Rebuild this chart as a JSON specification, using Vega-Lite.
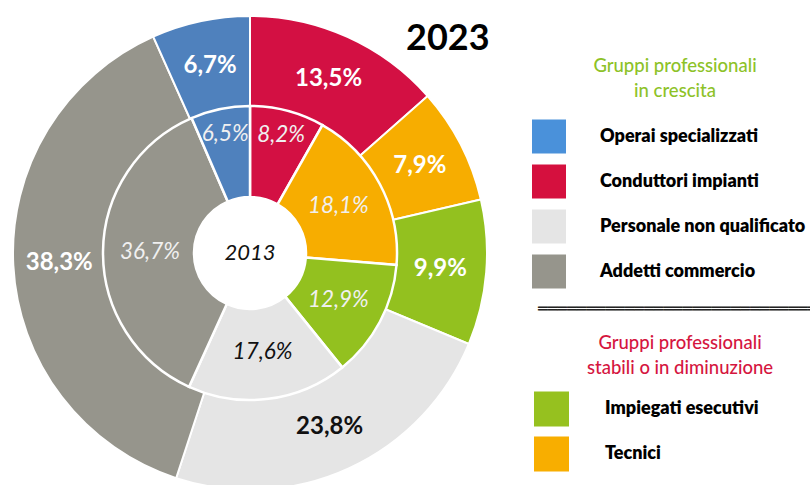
{
  "$schema": "https://vega.github.io/schema/vega-lite/v6.json",
  "width": 500,
  "height": 506,
  "autosize": "none",
  "padding": {"left": 0, "top": 0, "right": 310, "bottom": 0},
  "background": "white",
  "config": {"view": {"stroke": null}, "font": "Lato"},
  "title": {"text": "2023", "anchor": "start", "frame": "group", "font": "Lato", "fontSize": 36, "fontWeight": "bold", "color": "#000000", "dx": 406, "dy": 86, "offset": 0, "baseline": "alphabetic"},
  "data": {
    "values": [
      {"ring": "2023", "cat": "Conduttori impianti", "value": 13.5, "label": "13,5%", "ord": 1},
      {"ring": "2023", "cat": "Tecnici", "value": 7.9, "label": "7,9%", "ord": 2},
      {"ring": "2023", "cat": "Impiegati esecutivi", "value": 9.9, "label": "9,9%", "ord": 3},
      {"ring": "2023", "cat": "Personale non qualificato", "value": 23.8, "label": "23,8%", "ord": 4},
      {"ring": "2023", "cat": "Addetti commercio", "value": 38.3, "label": "38,3%", "ord": 5},
      {"ring": "2023", "cat": "Operai specializzati", "value": 6.7, "label": "6,7%", "ord": 6},
      {"ring": "2013", "cat": "Conduttori impianti", "value": 8.2, "label": "8,2%", "ord": 1},
      {"ring": "2013", "cat": "Tecnici", "value": 18.1, "label": "18,1%", "ord": 2},
      {"ring": "2013", "cat": "Impiegati esecutivi", "value": 12.9, "label": "12,9%", "ord": 3},
      {"ring": "2013", "cat": "Personale non qualificato", "value": 17.6, "label": "17,6%", "ord": 4},
      {"ring": "2013", "cat": "Addetti commercio", "value": 36.7, "label": "36,7%", "ord": 5},
      {"ring": "2013", "cat": "Operai specializzati", "value": 6.5, "label": "6,5%", "ord": 6}
    ]
  },
  "layer": [
    {
      "transform": [{"filter": "datum.ring == '2023'"}],
      "mark": {"type": "arc", "radius": 237, "radius2": 146, "stroke": "white", "strokeWidth": 2},
      "encoding": {
        "theta": {"field": "value", "type": "quantitative", "stack": "normalize"},
        "order": {"field": "ord", "type": "quantitative"},
        "color": {"field": "cat", "type": "nominal", "legend": null,
          "scale": {"domain": ["Conduttori impianti", "Tecnici", "Impiegati esecutivi", "Personale non qualificato", "Addetti commercio", "Operai specializzati"],
                    "range": ["#d31043", "#f7ad00", "#93c11f", "#e5e5e5", "#96958c", "#4f81bd"]}}
      }
    },
    {
      "transform": [{"filter": "datum.ring == '2013'"}],
      "mark": {"type": "arc", "radius": 147, "radius2": 56, "stroke": "white", "strokeWidth": 2.5},
      "encoding": {
        "theta": {"field": "value", "type": "quantitative", "stack": "normalize"},
        "order": {"field": "ord", "type": "quantitative"},
        "color": {"field": "cat", "type": "nominal", "legend": null,
          "scale": {"domain": ["Conduttori impianti", "Tecnici", "Impiegati esecutivi", "Personale non qualificato", "Addetti commercio", "Operai specializzati"],
                    "range": ["#d31043", "#f7ad00", "#93c11f", "#e5e5e5", "#96958c", "#4f81bd"]}}
      }
    },
    {
      "transform": [{"filter": "datum.ring == '2023'"}],
      "mark": {"type": "text", "radius": 191, "font": "Lato", "fontSize": 24, "fontWeight": "bold", "align": "center", "baseline": "middle"},
      "encoding": {
        "theta": {"field": "value", "type": "quantitative", "stack": "normalize"},
        "order": {"field": "ord", "type": "quantitative"},
        "text": {"field": "label"},
        "color": {"condition": {"test": "datum.cat == 'Personale non qualificato'", "value": "#111111"}, "value": "#ffffff"}
      }
    },
    {
      "transform": [{"filter": "datum.ring == '2013'"}],
      "mark": {"type": "text", "radius": 100, "font": "Lato", "fontSize": 22.5, "fontWeight": "normal", "fontStyle": "italic", "align": "center", "baseline": "middle"},
      "encoding": {
        "theta": {"field": "value", "type": "quantitative", "stack": "normalize"},
        "order": {"field": "ord", "type": "quantitative"},
        "text": {"condition": {"test": "datum.value >= 9", "field": "label"}, "value": ""},
        "color": {"condition": {"test": "datum.cat == 'Personale non qualificato'", "value": "#111111"}, "value": "#f0f0f0"}
      }
    },
    {
      "transform": [{"filter": "datum.ring == '2013'"}],
      "mark": {"type": "text", "radius": 122, "font": "Lato", "fontSize": 22.5, "fontWeight": "normal", "fontStyle": "italic", "align": "center", "baseline": "middle"},
      "encoding": {
        "theta": {"field": "value", "type": "quantitative", "stack": "normalize"},
        "order": {"field": "ord", "type": "quantitative"},
        "text": {"condition": {"test": "datum.value < 9", "field": "label"}, "value": ""},
        "color": {"value": "#f0f0f0"}
      }
    },
    {
      "data": {"values": [{"t": "2013"}]},
      "mark": {"type": "text", "font": "Lato", "fontSize": 22, "fontStyle": "italic", "color": "#111111", "align": "center", "baseline": "middle"},
      "encoding": {"text": {"field": "t"}}
    },
    {
      "transform": [{"filter": "datum.ring == '2023' && (datum.cat == 'Operai specializzati' || datum.cat == 'Conduttori impianti' || datum.cat == 'Personale non qualificato' || datum.cat == 'Addetti commercio')"}],
      "mark": {"type": "square", "opacity": 0},
      "encoding": {
        "color": {"field": "cat", "type": "nominal",
          "scale": {"domain": ["Operai specializzati", "Conduttori impianti", "Personale non qualificato", "Addetti commercio"],
                    "range": ["#4a91da", "#d5103e", "#e5e5e5", "#96958c"]},
          "legend": {
            "orient": "none", "legendX": 532, "legendY": 57, "padding": 0,
            "title": ["Gruppi professionali", "in crescita"],
            "titleFont": "Lato", "titleFontSize": 18.5, "titleFontWeight": 500, "titleColor": "#8dc228",
            "titleAnchor": "middle", "titleAlign": "center", "titleBaseline": "top", "titleLineHeight": 25, "titlePadding": 19, "titleLimit": 400,
            "symbolType": "square", "symbolSize": 1156, "symbolStrokeWidth": 0, "symbolOpacity": 1,
            "labelFont": "Lato", "labelFontSize": 18, "labelFontWeight": 800, "labelColor": "#000000", "labelOffset": 34, "labelLimit": 400,
            "labelExpr": "datum.label + '\u00a0\u00a0\u00a0\u200b'",
            "rowPadding": 11
          }}
      }
    },
    {
      "transform": [{"filter": "datum.ring == '2023' && (datum.cat == 'Impiegati esecutivi' || datum.cat == 'Tecnici')"}],
      "mark": {"type": "square", "opacity": 0},
      "encoding": {
        "color": {"field": "cat", "type": "nominal",
          "scale": {"domain": ["Impiegati esecutivi", "Tecnici"], "range": ["#96c11f", "#f8ae00"]},
          "legend": {
            "orient": "none", "legendX": 534, "legendY": 334, "padding": 0,
            "title": ["Gruppi professionali", "stabili o in diminuzione"],
            "titleFont": "Lato", "titleFontSize": 18.5, "titleFontWeight": 500, "titleColor": "#d5163f",
            "titleAnchor": "middle", "titleAlign": "center", "titleBaseline": "top", "titleLineHeight": 25, "titlePadding": 14, "titleLimit": 400,
            "symbolType": "square", "symbolSize": 1225, "symbolStrokeWidth": 0, "symbolOpacity": 1,
            "labelFont": "Lato", "labelFontSize": 18, "labelFontWeight": 800, "labelColor": "#000000", "labelOffset": 36, "labelLimit": 400,
            "labelExpr": "datum.label + '\u00a0\u00a0\u00a0\u00a0\u00a0\u00a0\u00a0\u00a0\u00a0\u00a0\u00a0\u00a0\u00a0\u00a0\u00a0\u00a0\u200b'",
            "rowPadding": 10
          }}
      }
    },
    {
      "transform": [{"filter": "datum.ring == '2023' && datum.ord == 1"}],
      "mark": {"type": "point", "opacity": 0},
      "encoding": {
        "shape": {"datum": "sep",
          "legend": {
            "orient": "none", "legendX": 538, "legendY": 301, "padding": 0,
            "title": "════════════════════════════════════",
            "titleFont": "DejaVu Sans", "titleFontSize": 16, "titleFontWeight": "normal", "titleColor": "#222222", "titleLimit": 600,
            "titleBaseline": "top", "titlePadding": 0,
            "symbolOpacity": 0, "symbolSize": 1, "labelExpr": "''", "labelFontSize": 1
          }}
      }
    }
  ],
  "resolve": {"scale": {"color": "independent"}}
}
